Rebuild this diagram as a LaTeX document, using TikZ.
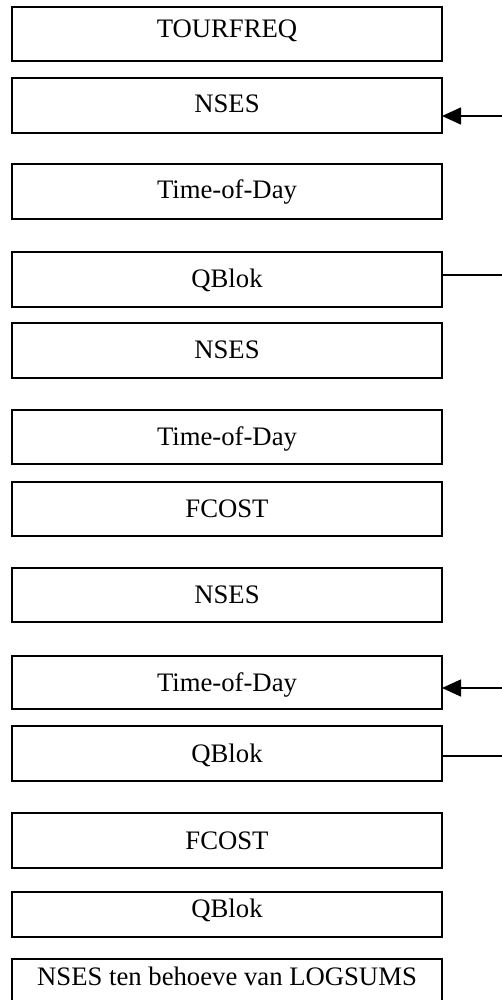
\documentclass[tikz,border=0pt]{standalone}
\usepackage{fontspec}
\setmainfont{Liberation Serif}
\usetikzlibrary{arrows.meta}
\tikzset{
  stagebox/.style={draw, line width=1.6pt, rectangle, inner sep=0pt, outer sep=0pt,
    minimum width=430pt, anchor=north, font=\fontsize{26.7}{30}\selectfont},
  conn/.style={line width=1.5pt},
  inarrow/.style={conn, -{Triangle[length=19pt,width=17pt]}}
}
\begin{document}
\begin{tikzpicture}[x=1pt,y=1pt]
\useasboundingbox (0,0) rectangle (502,-1000);
\clip (0,0) rectangle (502,-1000);
\node[stagebox, text height=31pt, text depth=23pt] (b1) at (227,-7) {TOURFREQ};
\node[stagebox, text height=35pt, text depth=20pt] (b2) at (227,-78) {NSES};
\node[stagebox, text height=35pt, text depth=20pt] (b3) at (227,-164) {Time-of-Day};
\node[stagebox, text height=35pt, text depth=20pt] (b4) at (227,-252) {QBlok};
\node[stagebox, text height=35pt, text depth=20pt] (b5) at (227,-323) {NSES};
\node[stagebox, text height=35pt, text depth=19pt] (b6) at (227,-410) {Time-of-Day};
\node[stagebox, text height=35pt, text depth=19pt] (b7) at (227,-482) {FCOST};
\node[stagebox, text height=35pt, text depth=19pt] (b8) at (227,-568) {NSES};
\node[stagebox, text height=35pt, text depth=18pt] (b9) at (227,-656) {Time-of-Day};
\node[stagebox, text height=36pt, text depth=19pt] (b10) at (227,-726) {QBlok};
\node[stagebox, text height=36pt, text depth=19pt] (b11) at (227,-813) {FCOST};
\node[stagebox, text height=25pt, text depth=20pt] (b12) at (227,-892) {QBlok};
\node[stagebox, text height=26pt, text depth=30pt] (b13) at (227,-959) {NSES ten behoeve van LOGSUMS};
\coordinate (e2) at (502,-116);
\coordinate (e4) at (502,-275);
\coordinate (e9) at (502,-688);
\coordinate (e10) at (502,-756);
\draw[inarrow] (e2) -- (e2 -| b2.east);
\draw[conn] (e4 -| b4.east) -- (e4);
\draw[inarrow] (e9) -- (e9 -| b9.east);
\draw[conn] (e10 -| b10.east) -- (e10);
\end{tikzpicture}
\end{document}
